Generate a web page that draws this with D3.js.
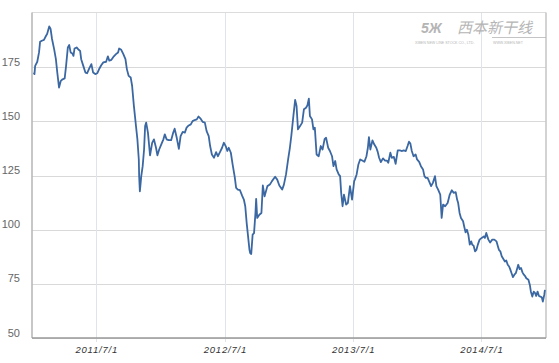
<!DOCTYPE html>
<html><head><meta charset="utf-8">
<script src="https://cdn.jsdelivr.net/npm/d3@7"></script>
<style>html,body{margin:0;padding:0;background:#fff;}svg{display:block;}</style>
</head><body>
<svg id="chart" width="559" height="363"></svg>
<script>
const dates = [
"2011-01-04","2011-01-06","2011-01-08","2011-01-14","2011-01-19","2011-01-22","2011-01-27","2011-02-02","2011-02-08","2011-02-11",
"2011-02-17","2011-02-21","2011-02-25","2011-03-03","2011-03-08","2011-03-12","2011-03-17","2011-03-22","2011-03-27","2011-04-02",
"2011-04-06","2011-04-11","2011-04-15","2011-04-19","2011-04-24","2011-04-27","2011-04-30","2011-05-06","2011-05-12","2011-05-16",
"2011-05-19","2011-05-25","2011-05-31","2011-06-05","2011-06-11","2011-06-17","2011-06-22","2011-06-28","2011-07-04","2011-07-10",
"2011-07-15","2011-07-21","2011-07-29","2011-08-03","2011-08-07","2011-08-13","2011-08-20","2011-08-26","2011-09-01","2011-09-04",
"2011-09-10","2011-09-16","2011-09-22","2011-09-26","2011-10-01","2011-10-07","2011-10-11","2011-10-16","2011-10-22","2011-10-26",
"2011-10-30","2011-10-31","2011-11-02",
"2011-11-06","2011-11-10","2011-11-14","2011-11-17","2011-11-20","2011-11-25","2011-12-01","2011-12-07","2011-12-12","2011-12-18",
"2011-12-22","2011-12-27","2012-01-02","2012-01-08","2012-01-12","2012-01-17","2012-01-23","2012-01-30","2012-02-05","2012-02-09",
"2012-02-15","2012-02-21","2012-02-26","2012-03-03","2012-03-09","2012-03-14","2012-03-20","2012-03-26","2012-03-31","2012-04-06",
"2012-04-12","2012-04-17","2012-04-23","2012-04-29","2012-05-05","2012-05-10","2012-05-16","2012-05-20","2012-05-25","2012-05-31",
"2012-06-06","2012-06-11","2012-06-17","2012-06-23","2012-06-28","2012-07-04","2012-07-08","2012-07-12","2012-07-18","2012-07-23",
"2012-07-29","2012-08-02","2012-08-07","2012-08-13","2012-08-19","2012-08-24","2012-08-28","2012-09-01","2012-09-05","2012-09-09",
"2012-09-11","2012-09-14","2012-09-18","2012-09-22","2012-09-26","2012-09-28","2012-10-01","2012-10-07","2012-10-13","2012-10-17",
"2012-10-22","2012-10-30","2012-11-06","2012-11-12","2012-11-21","2012-11-27","2012-12-03","2012-12-11","2012-12-16","2012-12-22",
"2012-12-28","2013-01-02","2013-01-06","2013-01-12","2013-01-17","2013-01-21","2013-01-25","2013-01-31","2013-02-06","2013-02-11",
"2013-02-17","2013-02-21","2013-02-25","2013-02-28","2013-03-06","2013-03-10","2013-03-14","2013-03-19","2013-03-25","2013-03-31",
"2013-04-05","2013-04-11","2013-04-15","2013-04-21","2013-04-26","2013-05-02","2013-05-06","2013-05-11","2013-05-15","2013-05-21",
"2013-05-25","2013-05-28","2013-06-01","2013-06-05","2013-06-11","2013-06-16","2013-06-22","2013-06-28","2013-07-04",
"2013-07-06","2013-07-11","2013-07-16","2013-07-21","2013-07-27","2013-08-02","2013-08-08","2013-08-12","2013-08-15","2013-08-19",
"2013-08-25","2013-08-30","2013-09-05","2013-09-09","2013-09-13","2013-09-18","2013-09-24","2013-09-30","2013-10-05","2013-10-09",
"2013-10-15","2013-10-19","2013-10-25","2013-10-30","2013-11-05","2013-11-11","2013-11-16","2013-11-22","2013-11-28","2013-12-03",
"2013-12-07","2013-12-11","2013-12-15","2013-12-20","2013-12-26","2013-12-30","2014-01-05","2014-01-10","2014-01-16","2014-01-20",
"2014-01-24","2014-01-29","2014-02-02","2014-02-08","2014-02-13","2014-02-19","2014-02-23","2014-02-28","2014-03-06","2014-03-10",
"2014-03-14","2014-03-20",
"2014-03-27","2014-04-02","2014-04-08","2014-04-13","2014-04-19","2014-04-23","2014-04-26","2014-04-30","2014-05-04","2014-05-10",
"2014-05-13","2014-05-17","2014-05-21","2014-05-25","2014-05-29","2014-06-02","2014-06-05","2014-06-09","2014-06-13","2014-06-17",
"2014-06-21","2014-06-26","2014-07-02","2014-07-08","2014-07-11","2014-07-15","2014-07-21","2014-07-26","2014-08-01","2014-08-07",
"2014-08-13","2014-08-17","2014-08-20","2014-08-24","2014-08-28","2014-09-03","2014-09-06","2014-09-10","2014-09-14","2014-09-18",
"2014-09-21","2014-09-25","2014-09-29","2014-10-03","2014-10-07","2014-10-10","2014-10-14","2014-10-18","2014-10-22","2014-10-26",
"2014-10-30","2014-11-02","2014-11-06","2014-11-12","2014-11-16","2014-11-19","2014-11-23","2014-11-27","2014-12-01","2014-12-04",
"2014-12-08","2014-12-12","2014-12-16","2014-12-20","2014-12-23","2014-12-27","2014-12-29"
];
const values = [
172.5,171.8,175.6,177.5,181.8,186.7,187.2,187.6,189.5,190.3,
193.8,192.6,188,183.3,178.7,172.5,165.6,168.7,169.4,169.8,
175.6,184.1,185.2,181.8,181.3,180.2,183.6,184.1,183,182.5,
178.7,175.6,172.5,172.2,174.4,176.4,172.5,171.8,172.2,174.4,
175.9,177.2,177.5,180,178,178.4,180,181,181.8,183.6,
183,181,178.7,174.1,171,170.2,166.3,157.1,147.8,141.7,
132.4,124.7,117.7,
124.7,129.3,137,147.8,149.4,144.8,134.3,140.1,141.7,137.8,
134.3,137,139.4,141.7,144,141.7,141.3,141.3,144.8,146.6,
142.4,137.3,143.2,145.1,144.8,147.1,148.1,148.6,150.1,150.6,
150.9,152.2,151.2,149.7,149.4,145.5,143.2,138.6,134.7,133.2,
135.8,133.9,135.8,137.8,140.1,138.3,136.3,137.8,135.5,130.1,
124.4,119.3,118.5,118.2,115.7,113.9,110.8,103.1,96.9,90.7,
89.2,88.8,97.7,98.4,107.7,114.2,105.4,106.9,107.7,120.4,
115.4,120.1,120.8,122.4,124.4,123.1,120.4,118.5,120.8,125.5,
132.4,137.8,143.2,152.5,159.9,157.1,146.3,147.8,149.4,155.6,
156.3,157.4,160.5,152.5,150.9,146.3,147.1,134.7,133.9,138.6,
137,141.9,142.4,137.8,136.3,133.9,129.3,131.7,127.8,125.5,
124.7,117,110.8,116.2,111.6,112.3,120.1,113.9,122.4,
123.1,125.5,130.1,132.4,131.9,131.3,133.9,137.8,142.7,137,
141.2,139.4,137.8,135.9,133.2,131.2,132.9,131.9,131.9,130.9,
135.5,133.2,133.6,130.4,136.6,136.6,136.3,136.6,136.3,138.6,
140.6,139.7,136.3,133.9,134.7,132.4,131.3,129.3,127.8,124.7,
123.9,123.9,122.4,120.1,121.6,124.7,120.1,118.5,116.2,105.4,
111.6,110.8,
112.3,116.2,118.2,117,117.3,113.9,112.3,107.7,105.4,103.9,
101.6,98.8,100,97.7,93.1,94.6,93.1,92.6,90,90.7,
93.1,95.4,96.2,96.9,96.2,98.5,95.4,94.1,95.4,95.4,
94.6,92.3,90.7,90,87.7,86.1,85.3,85.8,83.8,83,
81.8,79.9,78.1,79.2,79.9,81.5,83.8,81.8,82.3,80.3,
79.2,78.7,77.6,76.9,74.5,71.4,69.1,71.4,70.7,69.4,
71.4,69.4,69.1,68.8,66.8,69.9,72.2
];
const yTicks = [50, 75, 100, 125, 150, 175];
const xTickDates = ["2011-07-01", "2012-07-01", "2013-07-01", "2014-07-01"];
const xTickLabels = ["2011/7/1", "2012/7/1", "2013/7/1", "2014/7/1"];

const parse = d3.timeParse("%Y-%m-%d");
const data = dates.map((d, i) => ({date: parse(d), value: values[i]}));

const svg = d3.select("#chart");
const L = 32, R = 546, T = 12.5, B = 338;

const x = d3.scaleTime().domain([parse("2010-12-30"), parse("2015-01-01")]).range([L, R]);
const y = d3.scaleLinear().domain([50, 200]).range([B, T + 0.5]);

// horizontal gridlines
svg.append("g").selectAll("line").data(yTicks).join("line")
  .attr("x1", L).attr("x2", R)
  .attr("y1", d => Math.round(y(d)) + 0.5).attr("y2", d => Math.round(y(d)) + 0.5)
  .attr("stroke", "#d9d9d9").attr("stroke-width", 1);

// vertical gridlines
svg.append("g").selectAll("line").data(xTickDates).join("line")
  .attr("x1", d => Math.round(x(parse(d))) + 0.5).attr("x2", d => Math.round(x(parse(d))) + 0.5)
  .attr("y1", T).attr("y2", B + 4)
  .attr("stroke", "#e0e4ea").attr("stroke-width", 1);

// frame
svg.append("line").attr("x1", L).attr("x2", R).attr("y1", T).attr("y2", T).attr("stroke", "#dcdcdc");
svg.append("line").attr("x1", R).attr("x2", R).attr("y1", T).attr("y2", B).attr("stroke", "#c4c4c4").attr("stroke-width", 1.5);
svg.append("line").attr("x1", L).attr("x2", L).attr("y1", T).attr("y2", B).attr("stroke", "#b4b4b4").attr("stroke-width", 1.5);
svg.append("line").attr("x1", L).attr("x2", R).attr("y1", B).attr("y2", B).attr("stroke", "#999").attr("stroke-width", 1.5);

// line
const line = d3.line().x(d => x(d.date)).y(d => y(d.value));
svg.append("path").datum(data).attr("d", line)
  .attr("fill", "none").attr("stroke", "#3b68a2").attr("stroke-width", 1.8)
  .attr("stroke-linejoin", "round");

// y labels
svg.append("g").selectAll("text").data(yTicks).join("text")
  .attr("x", 20).attr("y", d => y(d) - 1.5)
  .attr("text-anchor", "end")
  .attr("font-family", "Liberation Sans, Arial, sans-serif")
  .attr("font-size", 11).attr("fill", "#666")
  .text(d => d);

// x labels
svg.append("g").selectAll("text").data(xTickDates).join("text")
  .attr("x", d => x(parse(d)) + 0.5).attr("y", 353)
  .attr("text-anchor", "middle")
  .attr("font-family", "Liberation Sans, Arial, sans-serif")
  .attr("font-style", "italic")
  .attr("font-size", 9.5).attr("fill", "#333")
  .attr("letter-spacing", 0.8)
  .text((d, i) => xTickLabels[i]);

// watermark
const wm = svg.append("g").attr("fill", "#b5b5b5");
wm.append("text").attr("x", 421).attr("y", 33)
  .attr("font-family", "Liberation Sans, Arial, sans-serif").attr("font-weight", "bold")
  .attr("font-size", 14).attr("font-style", "italic").text("5Ж");
wm.append("text").attr("x", 457).attr("y", 33)
  .attr("font-family", "Noto Sans CJK SC").attr("font-size", 15).attr("font-style", "italic")
  .text("西本新干线");
wm.append("text").attr("x", 415).attr("y", 44)
  .attr("font-family", "Liberation Sans, Arial, sans-serif").attr("font-size", 3.6)
  .text("XIBEN NEW LINE STOCK CO., LTD.");
wm.append("text").attr("x", 493).attr("y", 44)
  .attr("font-family", "Liberation Sans, Arial, sans-serif").attr("font-size", 3.6)
  .text("WWW.XIBEN.NET");
wm.append("line").attr("x1", 492).attr("x2", 546).attr("y1", 37.5).attr("y2", 37.5)
  .attr("stroke", "#b5b5b5").attr("stroke-width", 0.8);
</script>
</body></html>
